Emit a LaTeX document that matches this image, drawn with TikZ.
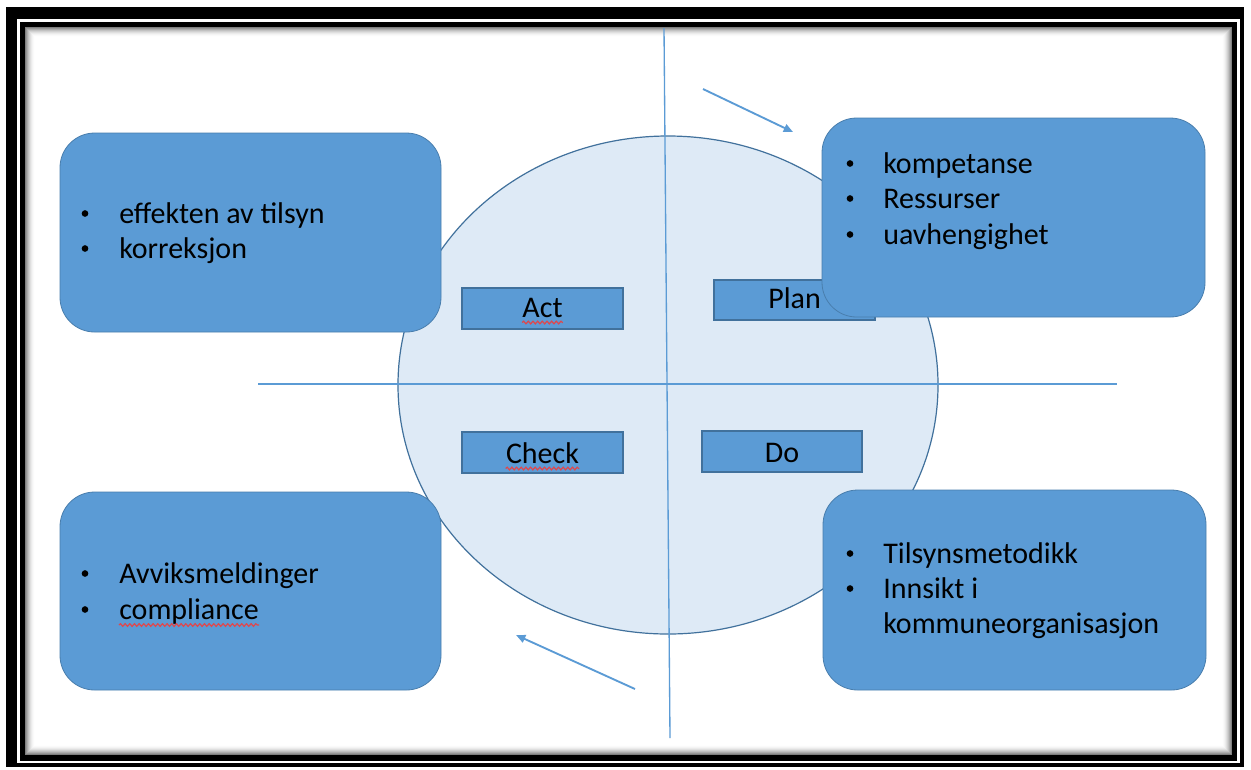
\documentclass[tikz,border=0pt]{standalone}
\usepackage{fontspec}
\setmainfont{Carlito}
\usetikzlibrary{fit,calc,shapes.geometric,decorations.pathmorphing,arrows.meta}
\definecolor{office}{HTML}{5B9BD5}
\definecolor{officedark}{HTML}{41719C}
\definecolor{disc}{HTML}{DEEAF6}
\definecolor{squig}{HTML}{E0474C}
\begin{document}
\begin{tikzpicture}[x=0.75pt,y=-0.75pt,
  infobox/.style={fill=office, draw=officedark!70!office, line width=0.6pt,
    rounded corners=26pt, inner sep=0pt},
  phase/.style={fill=office, draw=officedark, line width=0.9pt, inner sep=0pt},
  phasetxt/.style={inner sep=0pt, anchor=base, font=\fontsize{22.5}{27}\selectfont},
  word/.style={inner sep=0pt, anchor=base west, font=\fontsize{22.5}{27}\selectfont},
  dot/.style={circle, fill=black, inner sep=0pt, minimum size=5pt},
  axis/.style={draw=office, line width=1pt},
  flow/.style={draw=office, line width=1.4pt, -{Triangle[length=7pt,width=6pt]}},
  spell/.style={draw=squig, line width=0.9pt, decorate,
    decoration={snake, amplitude=1pt, segment length=3.5pt}},
]
\useasboundingbox (0,0) rectangle (1251,769);

% double black frame with an inner shadow
\fill[black] (6,7) rectangle (1244,767);
\fill[white] (17,19) rectangle (1240,763);
\fill[black] (20,22) rectangle (1237,761);
\fill[white] (25,27) rectangle (1232,755);
\foreach \i [evaluate=\i as \op using {0.5*(1-\i/10)^2}] in {0,...,9}
  \draw[black, opacity=\op, line width=0.75pt]
    (25.5+\i,27.5+\i) rectangle (1231.5-\i,754.5-\i);

% PDCA disc
\node[ellipse, fill=disc, draw=officedark, line width=0.9pt, inner sep=0pt,
  minimum width=540*0.75pt, minimum height=498*0.75pt] (cycle) at (668,385) {};

% axes
\coordinate (vtop) at (664,28);
\coordinate (vbot) at (670,738);
\coordinate (hleft) at (258,384);
\coordinate (hright) at (1117,384);
\draw[axis] (vtop) -- (vbot);
\draw[axis] (hleft) -- (hright);

% direction of rotation
\coordinate (topstart) at (703,89);
\coordinate (topend) at (793,132);
\coordinate (botstart) at (635,689);
\coordinate (botend) at (516,635);
\draw[flow] (topstart) -- (topend);
\draw[flow] (botstart) -- (botend);

% phase labels
\node[phase, fit={(462,288)(623,329)}] (act) {};
\node[phase, fit={(714,280)(875,320)}] (plan) {};
\node[phase, fit={(462,432)(623,473)}] (check) {};
\node[phase, fit={(702,431)(862,472)}] (do) {};
\node[phasetxt] (acttxt) at (542.5,317) {Act};
\node[phasetxt] (plantxt) at (794.5,308) {Plan};
\node[phasetxt] (checktxt) at (542.5,463) {Check};
\node[phasetxt] (dotxt) at (782,462) {Do};
\draw[spell] ($(acttxt.base west)+(0,5.5)$) -- ($(acttxt.base east)+(0,5.5)$);
\draw[spell] ($(checktxt.base west)+(0,5.5)$) -- ($(checktxt.base east)+(0,5.5)$);

% info boxes
\node[infobox, fit={(60,133)(441,332)}] (actbox) {};
\node[infobox, fit={(822,118)(1205,317)}] (planbox) {};
\node[infobox, fit={(60,492)(441,690)}] (checkbox) {};
\node[infobox, fit={(823,490)(1206,690)}] (dobox) {};

% act box text
\node[dot] (b11) at (85,213.5) {};
\node[word] (t11) at (119,223) {effekten av tilsyn};
\node[dot] (b12) at (85,248.5) {};
\node[word] (t12) at (119,258) {korreksjon};

% plan box text
\node[dot] (b21) at (850,163.5) {};
\node[word] (t21) at (883,173) {kompetanse};
\node[dot] (b22) at (850,198.5) {};
\node[word] (t22) at (883,208) {Ressurser};
\node[dot] (b23) at (850,234.5) {};
\node[word] (t23) at (883,244) {uavhengighet};

% check box text
\node[dot] (b31) at (85,573.5) {};
\node[word] (t31) at (119,583) {Avviksmeldinger};
\node[dot] (b32) at (85,609.5) {};
\node[word] (t32) at (119,619) {compliance};
\draw[spell] ($(t32.base west)+(0,6)$) -- ($(t32.base east)+(0,6)$);

% do box text
\node[dot] (b41) at (850,553.5) {};
\node[word] (t41) at (883,563) {Tilsynsmetodikk};
\node[dot] (b42) at (850,588.5) {};
\node[word] (t42) at (883,598) {Innsikt i};
\node[word] (t43) at (883,633) {kommuneorganisasjon};
\end{tikzpicture}
\end{document}
